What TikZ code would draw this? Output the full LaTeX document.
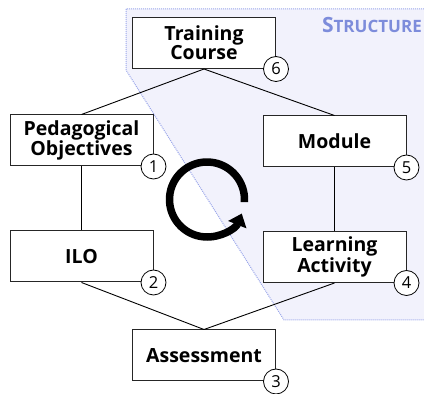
\documentclass[tikz,border=0pt]{standalone}
\usepackage{fontspec}
\setmainfont{Open Sans}
\usetikzlibrary{arrows.meta}
\definecolor{structfill}{HTML}{F2F2FC}
\definecolor{structline}{HTML}{9AA6EA}
\definecolor{structtext}{HTML}{7D8CDB}

\begin{document}
\begin{tikzpicture}[x=1pt,y=1pt]
    \clip (0,0) rectangle (424,394);
    % structure area
    \fill[structfill] (126,385) -- (430,385) -- (430,74) -- (284,74) -- (126,324) -- cycle;
    \draw[structline,line width=1pt,dash pattern=on 1pt off 1pt] (430,385) -- (126,385) -- (126,324) -- (284,74) -- (430,74);
    \node[anchor=east,text=structtext,font=\bfseries,inner sep=0pt] (ST) at (422,369) {\fontsize{21}{21}\selectfont S\fontsize{17}{17}\selectfont TRUCTURE};
    \coordinate (loop) at (207,194.5);
    \begin{scope}[every node/.style={draw=black!85,line width=1pt,fill=white,minimum width=143pt,minimum height=51pt,align=center,font=\fontsize{19.5}{19}\selectfont\bfseries}]
        \node (TC) at (204,351) {Training\\Course};
        \node (PO) at (81.5,253.5) {Pedagogical\\Objectives};
        \node (ILO) at (81.5,137.5) {ILO};
        \node (MO) at (334.5,252.5) {Module};
        \node (LA) at (334.5,137) {Learning\\Activity};
        \node (AS) at (204,38.5) {Assessment};
    \end{scope}
    \begin{scope}[every edge/.style={draw=black,line width=0.9pt}]
        \draw (TC.south) edge (PO.north);
        \draw (TC.south) edge (MO.north);
        \draw (PO.south) edge (ILO.north);
        \draw (MO.south) edge (LA.north);
        \draw (ILO.south) edge (AS.north);
        \draw (LA.south) edge (AS.north);
    \end{scope}
    \begin{scope}[every node/.style={circle,draw=black,line width=0.8pt,fill=white,minimum size=25pt,inner sep=0pt,font=\fontsize{16.5}{16.5}\selectfont}]
        \node (N1) at (PO.south east) {1};
        \node (N2) at (ILO.south east) {2};
        \node (N3) at (AS.south east) {3};
        \node (N4) at (LA.south east) {4};
        \node (N5) at (MO.south east) {5};
        \node (N6) at (TC.south east) {6};
    \end{scope}
    % cycle arrow
    \draw[line width=7.5pt,-{Triangle[length=12pt,width=19pt]}] (loop) ++(-4:37.5) arc[start angle=-4,end angle=338,radius=37.5];
\end{tikzpicture}
\end{document}
